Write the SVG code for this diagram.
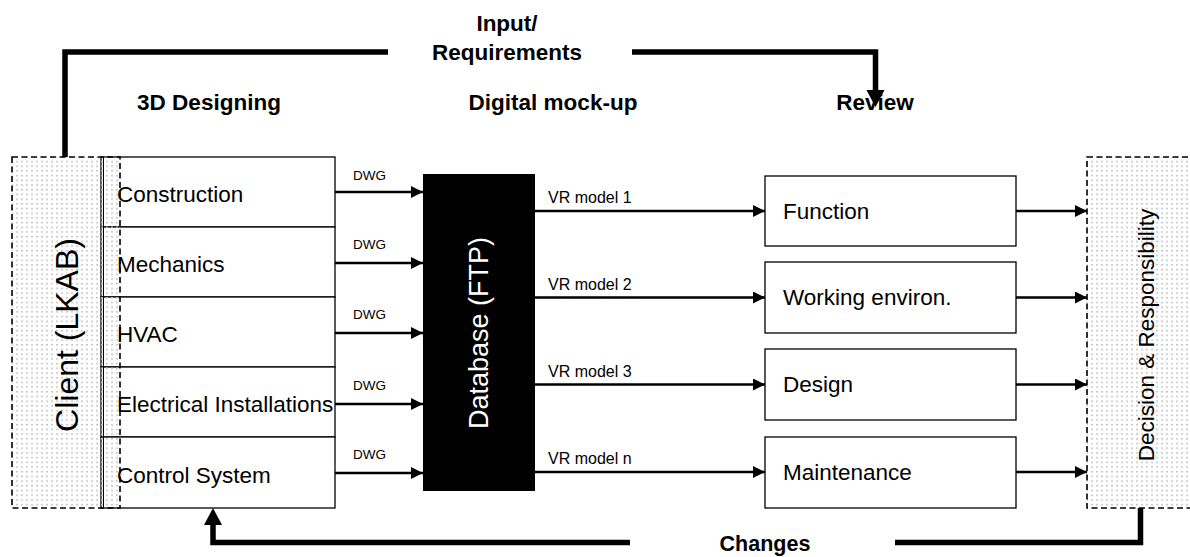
<svg xmlns="http://www.w3.org/2000/svg" width="1190" height="557" viewBox="0 0 1190 557">
<style>
text{font-family:"Liberation Sans",Arial,sans-serif;fill:#000}
.h{font-weight:bold;font-size:22.5px;text-anchor:middle}
.lbl{font-size:22.5px}
.dwg{font-size:13.5px}
.vr{font-size:16px}
.box{fill:#fff;stroke:#000;stroke-width:1.3}
.dash{fill:url(#dots);stroke:#000;stroke-width:1.6;stroke-dasharray:6 3.5}
.thin{fill:none;stroke:#000;stroke-width:2.5;marker-end:url(#ah)}
.thick{fill:none;stroke:#000;stroke-width:5.5}
</style>
<defs>
<pattern id="dots" patternUnits="userSpaceOnUse" width="5" height="4.7">
<rect x="1" y="1" width="2" height="1.4" fill="#c4c4c4"/>
</pattern>
<marker id="ah" markerUnits="userSpaceOnUse" markerWidth="13" markerHeight="12" refX="12" refY="6" orient="auto">
<path d="M0,0 L12,6 L0,12 z" fill="#000"/>
</marker>
</defs>
<rect width="1190" height="557" fill="#fff"/>

<g id="headings">
<text class="h" x="507" y="31">Input/</text>
<text class="h" x="507" y="60">Requirements</text>
<text class="h" x="209" y="110">3D Designing</text>
<text class="h" x="553" y="110">Digital mock-up</text>
<text class="h" x="875" y="110">Review</text>
<text class="h" x="765" y="551" style="font-size:21.5px">Changes</text>
</g>

<g id="design-stack">
<rect class="box" x="101" y="157" width="234" height="70"/>
<rect class="box" x="101" y="227" width="234" height="70"/>
<rect class="box" x="101" y="297" width="234" height="70"/>
<rect class="box" x="101" y="367" width="234" height="70"/>
<rect class="box" x="101" y="437" width="234" height="71"/>
<line x1="103.5" y1="157" x2="103.5" y2="508" stroke="#000" stroke-width="1"/>
</g>

<g id="client">
<rect class="dash" x="12" y="157" width="108" height="351"/>
<text transform="translate(78,335) rotate(-90)" text-anchor="middle" style="font-size:32px">Client (LKAB)</text>
</g>

<g id="design-labels">
<text class="lbl" x="117" y="202">Construction</text>
<text class="lbl" x="117" y="272">Mechanics</text>
<text class="lbl" x="117" y="342">HVAC</text>
<text class="lbl" x="117" y="412">Electrical Installations</text>
<text class="lbl" x="117" y="483">Control System</text>
</g>

<g id="database">
<rect x="423" y="174" width="112" height="317" fill="#000"/>
<text transform="translate(488,333) rotate(-90)" text-anchor="middle" style="font-size:27px;fill:#fff">Database (FTP)</text>
</g>

<g id="function"><rect class="box" x="765" y="176" width="251" height="70"/><text class="lbl" x="783" y="219">Function</text></g>
<g id="working"><rect class="box" x="765" y="262" width="251" height="71"/><text class="lbl" x="783" y="305">Working environ.</text></g>
<g id="design"><rect class="box" x="765" y="349" width="251" height="71"/><text class="lbl" x="783" y="392">Design</text></g>
<g id="maintenance"><rect class="box" x="765" y="437" width="251" height="71"/><text class="lbl" x="783" y="480">Maintenance</text></g>

<g id="decision">
<rect class="dash" x="1087" y="157" width="110" height="351"/>
<text transform="translate(1154,335) rotate(-90)" text-anchor="middle" style="font-size:22.5px">Decision &amp; Responsibility</text>
</g>

<g id="connectors">
<path class="thin" d="M335,192 H423"/>
<path class="thin" d="M335,263 H423"/>
<path class="thin" d="M335,333 H423"/>
<path class="thin" d="M335,404 H423"/>
<path class="thin" d="M335,473 H423"/>
<path class="thin" d="M535,211 H765"/>
<path class="thin" d="M535,297.5 H765"/>
<path class="thin" d="M535,384.5 H765"/>
<path class="thin" d="M535,472 H765"/>
<path class="thin" d="M1016,211 H1087"/>
<path class="thin" d="M1016,297.5 H1087"/>
<path class="thin" d="M1016,384.5 H1087"/>
<path class="thin" d="M1016,472 H1087"/>
<path class="thick" d="M65,157 V52 H388"/>
<path class="thick" d="M632,52 H875.5 V91"/>
<path d="M866.5,90 L884.5,90 L875.5,107 z" fill="#000"/>
<path class="thick" d="M1140.5,508 V542.5 H895"/>
<path class="thick" d="M630,542.5 H213 V524"/>
<path d="M204,525 L222,525 L213,508 z" fill="#000"/>
</g>

<g id="connector-labels">
<text class="dwg" x="353" y="180">DWG</text>
<text class="dwg" x="353" y="249">DWG</text>
<text class="dwg" x="353" y="319">DWG</text>
<text class="dwg" x="353" y="390">DWG</text>
<text class="dwg" x="353" y="459">DWG</text>
<text class="vr" x="548" y="203">VR model 1</text>
<text class="vr" x="548" y="290">VR model 2</text>
<text class="vr" x="548" y="377">VR model 3</text>
<text class="vr" x="548" y="464">VR model n</text>
</g>
</svg>
